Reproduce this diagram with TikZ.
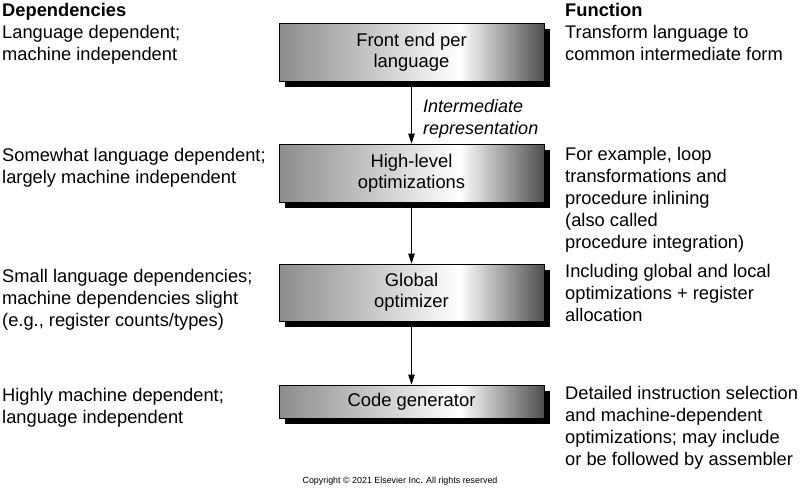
\documentclass[tikz,border=0pt]{standalone}
\usepackage{fontspec}
\setmainfont{Liberation Sans}
\usetikzlibrary{shadows,arrows.meta}
\definecolor{shadeL}{HTML}{8C8C8C}
\definecolor{shadeR}{HTML}{4E4E4E}
\pgfdeclarehorizontalshading{boxshade}{100bp}{color(0bp)=(shadeL); color(25bp)=(shadeL); color(59bp)=(white); color(75bp)=(shadeR); color(100bp)=(shadeR)}
\newcommand{\txtfont}{\fontsize{18.3}{22}\selectfont}
\begin{document}
\begin{tikzpicture}[x=1pt,y=-1pt,
  stage/.style={draw=black, line width=0.8pt, shading=boxshade, minimum width=265pt,
    inner sep=0pt, align=center, font=\fontsize{18.4}{21}\selectfont,
    drop shadow={shadow xshift=6pt, shadow yshift=-6pt, fill=black, opacity=1}},
  flow/.style={line width=0.8pt, -{Triangle[length=10pt,width=6.5pt]}},
  col/.style={anchor=base west, inner sep=0pt, font=\txtfont},
  note/.style={anchor=base west, inner sep=0pt, font=\txtfont\itshape}]
\useasboundingbox (0,0) rectangle (800,490);
% boxes
\node[stage, minimum height=58pt] (b1) at (411.5,52) {Front end per\\language};
\node[stage, minimum height=58pt] (b2) at (411.5,173) {High-level\\optimizations};
\node[stage, minimum height=57pt] (b3) at (411.5,292.5) {Global\\optimizer};
\node[stage, minimum height=33pt] (b4) at (411.5,401.5) {Code generator};
% connectors
\draw[flow] (b1.south) -- (b2.north);
\draw[flow] (b2.south) -- (b3.north);
\draw[flow] (b3.south) -- (b4.north);
\node[note] (ir) at (423,112) {\begin{tabular}[t]{@{}l@{}}\fontsize{18}{20.5}\selectfont Intermediate\\\fontsize{18}{20.5}\selectfont representation\end{tabular}};
% left column
\node[col] (l1) at (2,16) {\begin{tabular}[t]{@{}l@{}}\textbf{Dependencies}\\Language dependent;\\machine independent\end{tabular}};
\node[col] (l2) at (2,161) {\begin{tabular}[t]{@{}l@{}}Somewhat language dependent;\\largely machine independent\end{tabular}};
\node[col] (l3) at (2,282) {\begin{tabular}[t]{@{}l@{}}Small language dependencies;\\machine dependencies slight\\(e.g., register counts/types)\end{tabular}};
\node[col] (l4) at (2,401) {\begin{tabular}[t]{@{}l@{}}Highly machine dependent;\\language independent\end{tabular}};
% right column
\node[col] (r1) at (565,16) {\begin{tabular}[t]{@{}l@{}}\textbf{Function}\\Transform language to\\common intermediate form\end{tabular}};
\node[col] (r2) at (565,160) {\begin{tabular}[t]{@{}l@{}}For example, loop\\transformations and\\procedure inlining\\(also called\\procedure integration)\end{tabular}};
\node[col] (r3) at (565,277) {\begin{tabular}[t]{@{}l@{}}Including global and local\\optimizations + register\\allocation\end{tabular}};
\node[col] (r4) at (565,399) {\begin{tabular}[t]{@{}l@{}}Detailed instruction selection\\and machine-dependent\\optimizations; may include\\or be followed by assembler\end{tabular}};
% copyright
\node[anchor=base, inner sep=0pt, font=\fontsize{8.9}{10}\selectfont] (cr) at (400,483) {Copyright © 2021 Elsevier Inc. All rights reserved};
\end{tikzpicture}
\end{document}
